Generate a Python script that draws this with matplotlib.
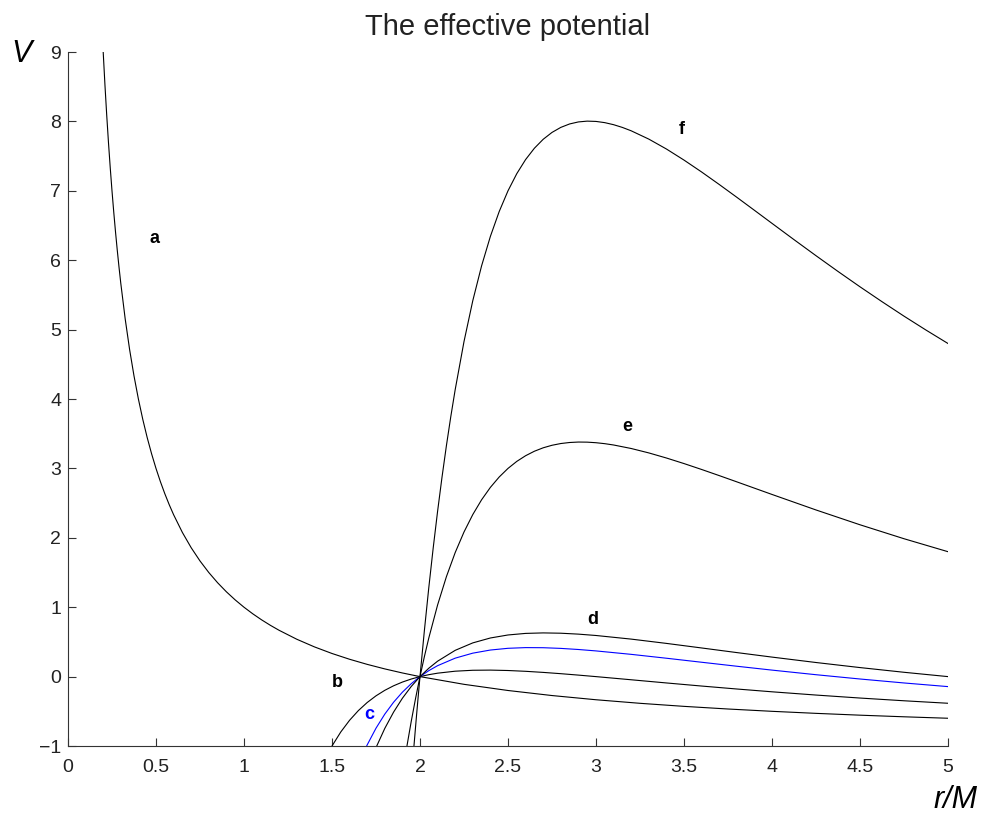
import matplotlib.pyplot as plt

plt.rcParams['font.family'] = ['Liberation Sans', 'DejaVu Sans']

# curve a
r_a = [0.2, 0.21, 0.22, 0.23, 0.24, 0.25, 0.26, 0.27, 0.28, 0.29, 0.3, 0.325, 0.35,
       0.375, 0.4, 0.425, 0.45, 0.475, 0.5, 0.525, 0.55, 0.575, 0.6, 0.65, 0.7, 0.75,
       0.8, 0.85, 0.9, 0.95, 1.0, 1.05, 1.1, 1.15, 1.2, 1.3, 1.4, 1.5, 1.6, 1.7, 1.8,
       1.9, 2.0, 2.25, 2.5, 2.75, 3.0, 3.25, 3.5, 3.75, 4.0, 4.25, 4.5, 4.75, 5.0]
V_a = [9.0, 8.5238, 8.0909, 7.6957, 7.3333, 7.0, 6.6923, 6.4074, 6.1429, 5.8966,
       5.6667, 5.1538, 4.7143, 4.3333, 4.0, 3.7059, 3.4444, 3.2105, 3.0, 2.8095,
       2.6364, 2.4783, 2.3333, 2.0769, 1.8571, 1.6667, 1.5, 1.3529, 1.2222, 1.1053,
       1.0, 0.9048, 0.8182, 0.7391, 0.6667, 0.5385, 0.4286, 0.3333, 0.25, 0.1765,
       0.1111, 0.0526, 0.0, -0.1111, -0.2, -0.2727, -0.3333, -0.3846, -0.4286,
       -0.4667, -0.5, -0.5294, -0.5556, -0.5789, -0.6]

# curve b
r_b = [1.5, 1.55, 1.6, 1.65, 1.7, 1.75, 1.8, 1.85, 1.9, 1.95, 2.0, 2.05, 2.1, 2.2, 2.3,
       2.4, 2.5, 2.6, 2.7, 2.8, 2.9, 3.0, 3.2, 3.4, 3.6, 3.8, 4.0, 4.25, 4.5, 4.75, 5.0]
V_b = [-1.0, -0.7973, -0.6289, -0.4891, -0.3731, -0.2770, -0.1975, -0.1321, -0.0786,
       -0.0350, 0.0, 0.0278, 0.0496, 0.0781, 0.0915, 0.0938, 0.088, 0.0765, 0.0608,
       0.0423, 0.0218, 0.0, -0.0454, -0.0912, -0.1358, -0.1784, -0.2188, -0.2656,
       -0.3087, -0.3480, -0.384]

# curve c (blue)
r_c = [1.69, 1.7, 1.75, 1.8, 1.85, 1.9, 1.95, 2.0, 2.05, 2.1, 2.2, 2.3, 2.4, 2.5, 2.6,
       2.7, 2.8, 2.9, 3.0, 3.2, 3.4, 3.6, 3.8, 4.0, 4.25, 4.5, 4.75, 5.0]
V_c = [-1.0368, -0.9837, -0.7434, -0.5405, -0.3690, -0.2244, -0.1025, 0.0, 0.0859,
       0.1575, 0.2660, 0.3381, 0.3831, 0.408, 0.4179, 0.4165, 0.4067, 0.3908, 0.3704,
       0.3208, 0.2650, 0.2071, 0.1496, 0.0938, 0.0275, -0.0343, -0.0914, -0.144]

# curve d
r_d = [1.75, 1.8, 1.85, 1.9, 1.95, 2.0, 2.05, 2.1, 2.2, 2.3, 2.4, 2.5, 2.6, 2.7, 2.8,
       2.9, 3.0, 3.2, 3.4, 3.6, 3.8, 4.0, 4.25, 4.5, 4.75, 5.0]
V_d = [-1.0233, -0.7462, -0.5112, -0.3118, -0.1429, 0.0, 0.1207, 0.2223, 0.3787,
       0.4860, 0.5567, 0.6, 0.6227, 0.6298, 0.6254, 0.6122, 0.5926, 0.5405, 0.4787,
       0.4129, 0.3464, 0.2813, 0.2033, 0.1303, 0.0625, 0.0]

# curve e
r_e = [1.925, 1.95, 1.975, 2.0, 2.025, 2.05, 2.1, 2.15, 2.2, 2.25, 2.3, 2.35, 2.4, 2.45,
       2.5, 2.55, 2.6, 2.65, 2.7, 2.75, 2.8, 2.85, 2.9, 2.95, 3.0, 3.05, 3.1, 3.2, 3.3,
       3.4, 3.5, 3.6, 3.7, 3.8, 3.9, 4.0, 4.25, 4.5, 4.75, 5.0]
V_e = [-1.0124, -0.6487, -0.3119, 0.0, 0.2887, 0.5560, 1.0322, 1.4395, 1.7874, 2.0837,
       2.3353, 2.5480, 2.7269, 2.8763, 3.0, 3.1013, 3.1830, 3.2476, 3.2971, 3.3335,
       3.3586, 3.3735, 3.3800, 3.3785, 3.3704, 3.3566, 3.3376, 3.2871, 3.2235,
       3.1502, 3.0700, 2.9849, 2.8967, 2.8066, 2.7158, 2.625, 2.4015, 2.1880, 1.9870,
       1.8]

# curve f
r_f = [1.965, 1.98, 1.99, 2.0, 2.025, 2.05, 2.075, 2.1, 2.125, 2.15, 2.175, 2.2, 2.25,
       2.3, 2.35, 2.4, 2.45, 2.5, 2.55, 2.6, 2.65, 2.7, 2.75, 2.8, 2.85, 2.9, 2.95, 3.0,
       3.05, 3.1, 3.15, 3.2, 3.3, 3.4, 3.5, 3.6, 3.7, 3.8, 3.9, 4.0, 4.125, 4.25,
       4.375, 4.5, 4.625, 4.75, 4.875, 5.0]
V_f = [-1.0201, -0.5696, -0.2805, 0.0, 0.6651, 1.2814, 1.8527, 2.3819, 2.8722, 3.3262,
       3.7464, 4.1353, 4.8272, 5.4174, 5.9190, 6.3438, 6.7012, 7.0, 7.2475, 7.4502,
       7.6136, 7.7425, 7.8415, 7.9140, 7.9635, 7.9927, 8.0042, 8.0, 7.9824, 7.9530,
       7.9134, 7.8648, 7.7453, 7.6028, 7.4430, 7.2716, 7.0918, 6.9072, 6.7197, 6.5313,
       6.2967, 6.0654, 5.8384, 5.6172, 5.4027, 5.1943, 4.9937, 4.8]

labels = ['a', 'b', 'c', 'd', 'e', 'f']
label_r = [0.49, 1.53, 1.71, 2.98, 3.18, 3.49]
label_V = [6.32, -0.08, -0.54, 0.83, 3.6, 7.89]

fig = plt.figure(figsize=(9.84, 8.18), dpi=100)
ax = fig.add_axes([0.0691, 0.0880, 0.8943, 0.8484])

lw = 0.8
ax.plot(r_a, V_a, color='black', linewidth=lw)
ax.plot(r_b, V_b, color='black', linewidth=lw)
ax.plot(r_c, V_c, color='blue', linewidth=lw)
ax.plot(r_d, V_d, color='black', linewidth=lw)
ax.plot(r_e, V_e, color='black', linewidth=lw)
ax.plot(r_f, V_f, color='black', linewidth=lw)

for lab, x, y in zip(labels, label_r, label_V):
    ax.text(x, y, lab, fontsize=13, fontweight='bold', ha='center', va='center',
            color='blue' if lab == 'c' else 'black')

ax.set_xlim(0, 5)
ax.set_ylim(-1, 9)
ax.set_xticks([0, 0.5, 1, 1.5, 2, 2.5, 3, 3.5, 4, 4.5, 5])
ax.set_xticklabels(['0', '0.5', '1', '1.5', '2', '2.5', '3', '3.5', '4', '4.5', '5'])
ax.set_yticks(range(-1, 10))
ax.spines['top'].set_visible(False)
ax.spines['right'].set_visible(False)
for s in ['left', 'bottom']:
    ax.spines[s].set_linewidth(0.8)
    ax.spines[s].set_color('#333333')
ax.tick_params(direction='in', length=6, width=0.8, labelsize=14, color='#333333',
               labelcolor='#222222')
ax.tick_params(axis='x', pad=9)
ax.tick_params(axis='y', pad=5)

ax.set_title('The effective potential', fontsize=21, pad=12, color='#222222')
fig.text(22 / 984, 1 - 54 / 818, 'V', fontsize=22, style='italic', ha='center', va='center')
fig.text(955 / 984, 1 - 800 / 818, 'r/M', fontsize=22, style='italic', ha='center', va='center')

fig.savefig('out.png', dpi=100)
